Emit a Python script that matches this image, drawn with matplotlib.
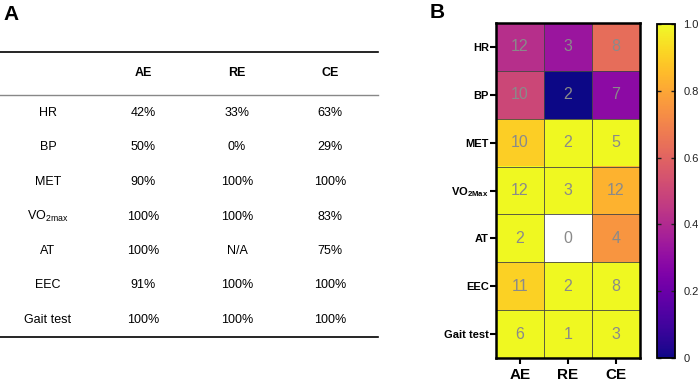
import numpy as np
import matplotlib
matplotlib.use("Agg")
import matplotlib.pyplot as plt

plt.rcParams["font.family"] = ["Liberation Sans", "DejaVu Sans"]
plt.rcParams["mathtext.fontset"] = "custom"
plt.rcParams["mathtext.rm"] = "Liberation Sans"
plt.rcParams["mathtext.bf"] = "Liberation Sans:bold"

# data
groups = ["AE", "RE", "CE"]
measures = ["HR", "BP", "MET", "VO2max", "AT", "EEC", "Gait test"]
table_labels = ["HR", "BP", "MET", r"VO$_{\mathrm{2max}}$", "AT", "EEC", "Gait test"]
heat_labels = ["HR", "BP", "MET", r"VO$_{\mathbf{2Max}}$", "AT", "EEC", "Gait test"]
rate_text = [
    ["42%", "33%", "63%"],
    ["50%", "0%", "29%"],
    ["90%", "100%", "100%"],
    ["100%", "100%", "83%"],
    ["100%", "N/A", "75%"],
    ["91%", "100%", "100%"],
    ["100%", "100%", "100%"],
]
rate = [
    [0.42, 0.33, 0.63],
    [0.50, 0.00, 0.29],
    [0.90, 1.00, 1.00],
    [1.00, 1.00, 0.83],
    [1.00, np.nan, 0.75],
    [0.91, 1.00, 1.00],
    [1.00, 1.00, 1.00],
]
counts = [
    [12, 3, 8],
    [10, 2, 7],
    [10, 2, 5],
    [12, 3, 12],
    [2, 0, 4],
    [11, 2, 8],
    [6, 1, 3],
]

W, H = 700, 384
fig = plt.figure(figsize=(W / 100, H / 100), dpi=100)

# ---------------- panel A: table ----------------
axt = fig.add_axes([0, 0, 390 / W, 1])
axt.set_xlim(0, 390)
axt.set_ylim(H, 0)
axt.axis("off")

col_x = [48, 143, 237, 330]
head_y = 73
row_y0, row_dy = 113, 34.5
axt.text(3, 14, "A", fontsize=15, fontweight="bold", va="center", ha="left")
axt.plot([0, 378], [52, 52], color="black", lw=1.2)
axt.plot([0, 378], [95, 95], color="#888888", lw=1.0)
for j, g in enumerate(groups):
    axt.text(col_x[j + 1], head_y, g, fontsize=9, fontweight="bold",
             ha="center", va="center")
for i, lab in enumerate(table_labels):
    y = row_y0 + i * row_dy
    axt.text(col_x[0], y, lab, fontsize=9, ha="center", va="center")
    for j in range(3):
        axt.text(col_x[j + 1], y, rate_text[i][j], fontsize=9,
                 ha="center", va="center")
axt.plot([0, 378], [337, 337], color="black", lw=1.2)

# ---------------- panel B: heatmap ----------------
left, right, top, bottom = 496, 640, 23, 358
axh = fig.add_axes([left / W, 1 - bottom / H, (right - left) / W, (bottom - top) / H])
cmap = plt.get_cmap("plasma").copy()
cmap.set_bad("white")
data = np.ma.masked_invalid(np.array(rate))
im = axh.imshow(data, cmap=cmap, vmin=0, vmax=1, aspect="auto")
for i in range(len(measures)):
    for j in range(len(groups)):
        axh.text(j, i, str(counts[i][j]), ha="center", va="center",
                 fontsize=11.5, color="#8a8a8a")
axh.set_xticks(range(len(groups)))
axh.set_xticklabels(groups, fontsize=11, fontweight="bold")
axh.set_yticks(range(len(measures)))
axh.set_yticklabels(heat_labels, fontsize=8, fontweight="bold")
axh.set_xticks(np.arange(-0.5, len(groups)), minor=True)
axh.set_yticks(np.arange(-0.5, len(measures)), minor=True)
axh.grid(which="minor", color="#444444", lw=0.6)
axh.tick_params(which="minor", length=0)
axh.tick_params(which="major", length=4, width=1.5, color="black", pad=1)
axh.tick_params(axis="x", pad=3)
for s in axh.spines.values():
    s.set_linewidth(1.8)
fig.text(437 / W, 1 - 12 / H, "B", fontsize=15, fontweight="bold",
         ha="center", va="center")

# colorbar
cax = fig.add_axes([657 / W, 1 - bottom / H, 18 / W, (bottom - top - 1) / H])
cb = fig.colorbar(im, cax=cax)
cb.set_ticks([0, 0.2, 0.4, 0.6, 0.8, 1.0])
cb.set_ticklabels(["0", "0.2", "0.4", "0.6", "0.8", "1.0"])
cb.ax.tick_params(labelsize=8, length=3, width=1, pad=6, direction="in",
                  left=True, right=True, colors="#222222", labelcolor="#222222")
cb.outline.set_linewidth(1.3)

fig.savefig("out.png", dpi=100)
